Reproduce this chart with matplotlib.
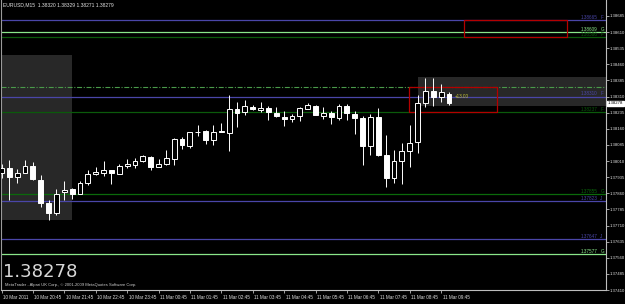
import matplotlib
matplotlib.use("Agg")
import matplotlib.pyplot as plt
import matplotlib.transforms as mtransforms
from matplotlib.patches import Rectangle

# ---------------- data ----------------
symbol_header = "EURUSD,M15  1.38320 1.38329 1.38271 1.38279"
last_price = 1.38278
copyright_text = "MetaTrader - Alpari UK Corp., \u00a9 2001-2009 MetaQuotes Software Corp."

opens = [1.37953, 1.37979, 1.37935, 1.37956, 1.37989, 1.37920, 1.37813, 1.37767, 1.37865, 1.37880,
         1.37857, 1.37906, 1.37949, 1.37956, 1.37966, 1.37950, 1.37986, 1.37990, 1.38011, 1.38029,
         1.37982, 1.37995, 1.38020, 1.38114, 1.38078, 1.38145, 1.38150, 1.38106, 1.38150, 1.38140,
         1.38251, 1.38237, 1.38260, 1.38246, 1.38255, 1.38235, 1.38215, 1.38205, 1.38218, 1.38253,
         1.38267, 1.38218, 1.38235, 1.38212, 1.38267, 1.38230, 1.38209, 1.38078, 1.38215, 1.38037,
         1.37933, 1.38009, 1.38055, 1.38098, 1.38278, 1.38338, 1.38310, 1.38324]
highs = [1.37998, 1.38014, 1.37972, 1.38017, 1.38006, 1.37944, 1.37829, 1.37880, 1.37916, 1.37883,
         1.37915, 1.37968, 1.37980, 1.38009, 1.37966, 1.37998, 1.38020, 1.38022, 1.38037, 1.38034,
         1.38018, 1.38063, 1.38117, 1.38121, 1.38147, 1.38178, 1.38155, 1.38178, 1.38187, 1.38316,
         1.38283, 1.38293, 1.38270, 1.38283, 1.38267, 1.38261, 1.38244, 1.38230, 1.38260, 1.38278,
         1.38270, 1.38261, 1.38243, 1.38274, 1.38274, 1.38243, 1.38218, 1.38230, 1.38255, 1.38129,
         1.38063, 1.38095, 1.38178, 1.38316, 1.38398, 1.38398, 1.38367, 1.38329]
lows = [1.37930, 1.37829, 1.37906, 1.37953, 1.37920, 1.37794, 1.37736, 1.37760, 1.37829, 1.37834,
        1.37857, 1.37898, 1.37943, 1.37941, 1.37903, 1.37950, 1.37976, 1.37976, 1.38006, 1.37968,
        1.37980, 1.37990, 1.37990, 1.38068, 1.38071, 1.38126, 1.38087, 1.38083, 1.38145, 1.38055,
        1.38170, 1.38226, 1.38249, 1.38240, 1.38200, 1.38215, 1.38175, 1.38193, 1.38195, 1.38251,
        1.38224, 1.38206, 1.38184, 1.38203, 1.38203, 1.38134, 1.37990, 1.38037, 1.38034, 1.37891,
        1.37906, 1.37902, 1.37983, 1.38045, 1.38261, 1.38266, 1.38286, 1.38270]
closes = [1.37979, 1.37936, 1.37956, 1.37989, 1.37926, 1.37817, 1.37767, 1.37857, 1.37877, 1.37857,
          1.37910, 1.37949, 1.37961, 1.37970, 1.37955, 1.37985, 1.37998, 1.38011, 1.38034, 1.37980,
          1.37997, 1.38025, 1.38114, 1.38083, 1.38145, 1.38147, 1.38110, 1.38145, 1.38145, 1.38251,
          1.38235, 1.38264, 1.38252, 1.38255, 1.38238, 1.38218, 1.38206, 1.38220, 1.38255, 1.38269,
          1.38224, 1.38233, 1.38215, 1.38264, 1.38235, 1.38209, 1.38078, 1.38215, 1.38037, 1.37933,
          1.38011, 1.38055, 1.38095, 1.38278, 1.38336, 1.38310, 1.38329, 1.38278]

time_tick_bars = [0, 4, 8, 12, 16, 20, 24, 28, 32, 36, 40, 44, 48, 52, 56]
time_tick_labels = ["10 Mar 2011", "10 Mar 20:45", "10 Mar 21:45", "10 Mar 22:45", "10 Mar 23:45",
                    "11 Mar 00:45", "11 Mar 01:45", "11 Mar 02:45", "11 Mar 03:45", "11 Mar 04:45",
                    "11 Mar 05:45", "11 Mar 06:45", "11 Mar 07:45", "11 Mar 08:45", "11 Mar 09:45"]

price_ticks = [1.38685, 1.38610, 1.38535, 1.38460, 1.38385, 1.38310, 1.38235, 1.38160, 1.38085,
               1.38010, 1.37935, 1.37860, 1.37785, 1.37710, 1.37635, 1.37560, 1.37485, 1.37410]

# horizontal level lines: price, colour, style, label, letter
level_prices = [1.38665, 1.38609, 1.38586, 1.38352, 1.38310, 1.38237, 1.37855, 1.37823, 1.37647, 1.37577]
level_colors = ["#4a46a8", "#8ae68a", "#0b5a0b", "#4a9a4a", "#4a46a8", "#0b5a0b",
                "#0b6a0b", "#4a46a8", "#4a46a8", "#8ae68a"]
level_styles = ["solid", "solid", "solid", "dashdot", "solid", "solid", "solid", "solid", "solid", "solid"]
level_texts = ["1.38665", "1.38609", "1.38586", "", "1.38310", "1.38237", "1.37855", "1.37823", "1.37647", "1.37577"]
level_letters = ["F", "G", "F", "", "F", "F", "G", "J", "J", "G"]

# rectangles (bar index / price)
red_rects = [(58.9, 72.0, 1.38587, 1.38665), (51.95, 63.1, 1.38237, 1.38352)]
gray_rects = [(-1.0, 9.0, 1.37737, 1.38502), (53.0, 80.0, 1.38267, 1.38399)]
pip_text = "+13.00"
pip_text_pos = (57.8, 1.38312)

# ---------------- drawing ----------------
W, H = 625, 304
fig = plt.figure(figsize=(W / 100, H / 100), dpi=100, facecolor="black")
ax_left_px, ax_right_px, ax_bottom_px = 1, 606, 290
ax = fig.add_axes([ax_left_px / W, (H - ax_bottom_px) / H,
                   (ax_right_px - ax_left_px) / W, ax_bottom_px / H])
ax.set_facecolor("black")

x0_bar, bar_px = 1.5, 7.85
ax.set_xlim((ax_left_px - x0_bar) / bar_px, (ax_right_px - x0_bar) / bar_px)
ax.set_ylim(1.37422, 1.38759)

for (a, b, lo, hi) in gray_rects:
    ax.add_patch(Rectangle((a, lo), b - a, hi - lo, facecolor="#282828", edgecolor="none", zorder=0.5))

for p, c, s in zip(level_prices, level_colors, level_styles):
    if s == "dashdot":
        ax.axhline(p, color=c, lw=0.8, dashes=(4.5, 1.5, 1, 1.5), zorder=1)
    else:
        ax.axhline(p, color=c, lw=0.9, zorder=1)

for (a, b, lo, hi) in red_rects:
    ax.add_patch(Rectangle((a, lo), b - a, hi - lo, facecolor="none", edgecolor="#b40000", lw=0.9, zorder=1.2))

idx = list(range(len(opens)))
ax.vlines(idx, lows, highs, color="white", lw=0.7, zorder=2)
bottoms = [min(o, c) for o, c in zip(opens, closes)]
heights = [max(abs(c - o), 0.000004) for o, c in zip(opens, closes)]
faces = ["white" if c < o else "black" for o, c in zip(opens, closes)]
ax.bar(idx, heights, bottom=bottoms, width=0.62, color=faces, edgecolor="white", linewidth=0.7, zorder=3)

tf = dict(family="Liberation Sans", fontsize=3.3)
for p, t, l, c in zip(level_prices, level_texts, level_letters, level_colors):
    if t:
        ax.text(75.9, p + 0.00001, t, color=c, ha="right", va="bottom", **tf)
        ax.text(76.3, p + 0.00001, l, color=c, ha="left", va="bottom", **tf)

ax.text(pip_text_pos[0], pip_text_pos[1], pip_text, color="#c8c832", ha="left", va="center", **tf)

# spines and axes
ax.spines["top"].set_visible(False)
ax.spines["left"].set_color("#9a9a9a")
ax.spines["right"].set_color("#bdbdbd")
ax.spines["bottom"].set_color("#bdbdbd")
for s in ["left", "right", "bottom"]:
    ax.spines[s].set_linewidth(0.8)

ax.yaxis.tick_right()
ax.set_yticks(price_ticks)
ax.set_yticklabels([f"{v:.5f}" for v in price_ticks])
ax.tick_params(axis="y", colors="#bdbdbd", labelcolor="#e0e0e0", length=2.0, width=0.6,
               direction="out", pad=0.8, labelsize=3.1)
ax.set_xticks(time_tick_bars)
ax.set_xticklabels(time_tick_labels)
ax.tick_params(axis="x", colors="#bdbdbd", labelcolor="#e0e0e0", length=2.5, width=0.6,
               direction="out", pad=1.2, labelsize=3.3)
offset = mtransforms.ScaledTranslation(1.5 / 100, 0, fig.dpi_scale_trans)
for lab in ax.get_xticklabels():
    lab.set_horizontalalignment("left")
    lab.set_family("Liberation Sans")
    lab.set_transform(lab.get_transform() + offset)
for lab in ax.get_yticklabels():
    lab.set_family("Liberation Sans")

# current price box on the price axis
ax.text(1.003, last_price, f"{last_price:.5f}", transform=ax.get_yaxis_transform(),
        ha="left", va="center", color="black", family="Liberation Sans", fontsize=3.1,
        bbox=dict(boxstyle="square,pad=0.12", facecolor="white", edgecolor="white"), zorder=5,
        clip_on=False)

# header and footer texts
ax.text(0.004, 0.993, symbol_header, transform=ax.transAxes, ha="left", va="top",
        color="#e0e0e0", family="Liberation Sans", fontsize=3.6)
ax.text(0.004, 0.03, f"{last_price:.5f}", transform=ax.transAxes, ha="left", va="bottom",
        color="#d8d8d8", family="Liberation Sans Narrow", fontsize=13)
ax.text(0.006, 0.012, copyright_text, transform=ax.transAxes, ha="left", va="bottom",
        color="#cfcfcf", family="Liberation Sans", fontsize=3.0)

fig.savefig("out.png", dpi=100, facecolor="black")
